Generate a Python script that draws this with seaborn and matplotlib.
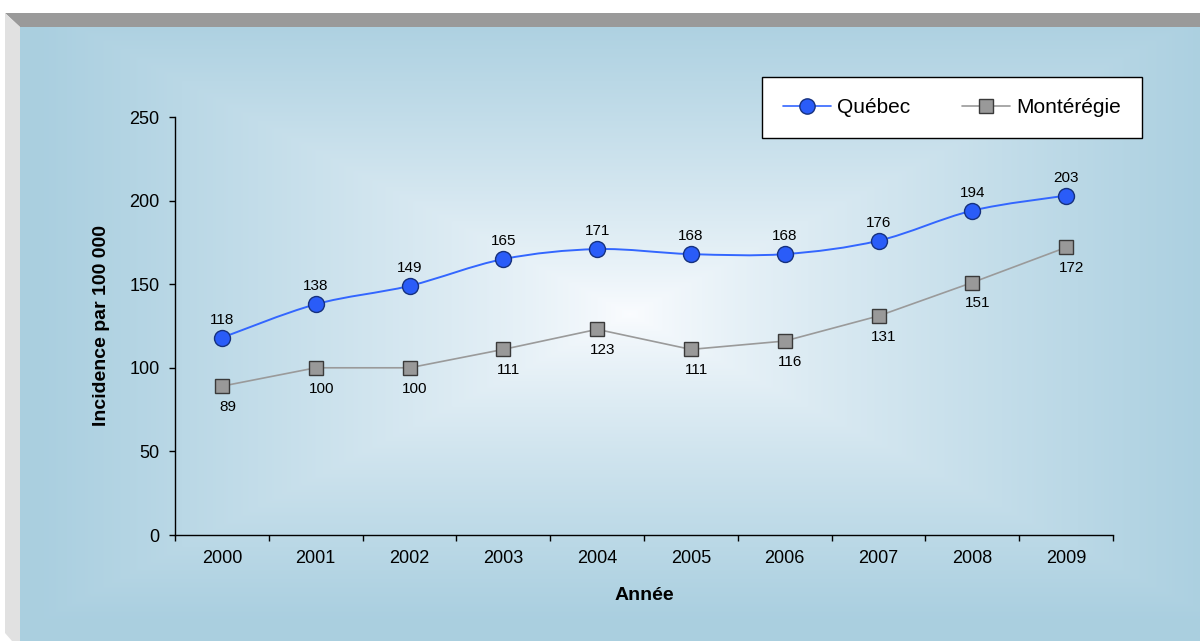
import numpy as np
import pandas as pd
import matplotlib
matplotlib.use("Agg")
import matplotlib.pyplot as plt
from matplotlib.path import Path
from matplotlib.patches import PathPatch, Polygon
from matplotlib.lines import Line2D
import seaborn as sns

# ---- data -------------------------------------------------------------
years = ["2000", "2001", "2002", "2003", "2004",
         "2005", "2006", "2007", "2008", "2009"]
quebec = [118, 138, 149, 165, 171, 168, 168, 176, 194, 203]
monteregie = [89, 100, 100, 111, 123, 111, 116, 131, 151, 172]
y_ticks = [0, 50, 100, 150, 200, 250]
series_names = ["Québec", "Montérégie"]
x_title = "Année"
y_title = "Incidence par 100 000"

# ---- style ------------------------------------------------------------
sns.set_theme(style="white")
plt.rcParams["font.family"] = ["Liberation Sans", "DejaVu Sans"]
plt.rcParams.update({"text.color": "black", "axes.labelcolor": "black",
                     "xtick.color": "black", "ytick.color": "black"})

Q_LINE, Q_FACE, Q_EDGE = "#3366ff", "#2a5cf8", "#16317e"
M_LINE, M_FACE, M_EDGE = "#9a9a9a", "#999999", "#3a3a3a"
BG_EDGE = np.array([0.667, 0.812, 0.878])

W, H = 1200, 641
fig = plt.figure(figsize=(W / 100, H / 100), dpi=100, facecolor="white")

# ---- chart-area background: bevelled frame + centre gradient ------------
bg = fig.add_axes([0, 0, 1, 1])
bg.set_xlim(0, W)
bg.set_ylim(H, 0)
bg.axis("off")

x0, x1, y0, y1 = 20, W, 27, H
gx = np.linspace(x0, x1, 600)
gy = np.linspace(y0, y1, 320)
GX, GY = np.meshgrid(gx, gy)
cx, cy = (x0 + x1) / 2 + 20, (y0 + y1) / 2 - 20
t = np.maximum(np.abs(GX - cx) / ((x1 - x0) / 2), np.abs(GY - cy) / ((y1 - y0) / 2))
t = np.clip(t, 0, 1) ** 0.8
img = (1 - t)[..., None] * np.array([0.985, 0.99, 1.0]) + t[..., None] * BG_EDGE
bg.imshow(img, extent=(x0, x1, y1, y0), aspect="auto", interpolation="bilinear", zorder=0)

bg.add_patch(Polygon([(5, 13), (W, 13), (W, 27), (20, 27)], closed=True,
                     facecolor="#9a9a9a", edgecolor="none", zorder=1))
bg.add_patch(Polygon([(5, 13), (20, 27), (20, H), (12, H), (5, 633)], closed=True,
                     facecolor="#e1e1e1", edgecolor="none", zorder=1))

# ---- plot axes ---------------------------------------------------------
ax = fig.add_axes([175 / W, (H - 535) / H, (1113 - 175) / W, (535 - 117) / H])
ax.patch.set_alpha(0)

pos = np.arange(len(years))
df = pd.DataFrame({"pos": np.tile(pos, 2),
                   "value": quebec + monteregie,
                   "series": np.repeat(series_names, len(years))})
dq = df[df["series"] == series_names[0]]
dm = df[df["series"] == series_names[1]]


def smooth_path(x, y, k=1 / 6):
    pts = np.column_stack([x, y]).astype(float)
    n = len(pts)
    verts, codes = [pts[0]], [Path.MOVETO]
    for i in range(n - 1):
        p0 = pts[i - 1] if i > 0 else pts[i]
        p1, p2 = pts[i], pts[i + 1]
        p3 = pts[i + 2] if i + 2 < n else pts[i + 1]
        verts += [p1 + (p2 - p0) * k, p2 - (p3 - p1) * k, p2]
        codes += [Path.CURVE4] * 3
    return Path(verts, codes)


# Montérégie: straight segments with square markers
sns.lineplot(data=dm, x="pos", y="value", ax=ax, color=M_LINE, lw=1.2,
             marker="s", markersize=9.5, markerfacecolor=M_FACE,
             markeredgecolor=M_EDGE, markeredgewidth=1.0, zorder=3)

# Québec: smoothed line with round markers
ax.add_patch(PathPatch(smooth_path(dq["pos"], dq["value"]), facecolor="none",
                       edgecolor=Q_LINE, lw=1.4, zorder=3))
sns.scatterplot(data=dq, x="pos", y="value", ax=ax, s=11.5 ** 2, marker="o",
                color=Q_FACE, edgecolor=Q_EDGE, linewidth=1.0, zorder=4)

for xv, v in zip(pos, quebec):
    ax.annotate(str(v), (xv, v), xytext=(0, 13), textcoords="offset points",
                ha="center", va="center", fontsize=11, color="black")
for xv, v in zip(pos, monteregie):
    ax.annotate(str(v), (xv, v), xytext=(4, -15), textcoords="offset points",
                ha="center", va="center", fontsize=11, color="black")

# axes, ticks
ax.set_xlim(-0.5, len(years) - 0.5)
ax.set_ylim(0, 250)
ax.set_yticks(y_ticks)
ax.set_xticks(pos)
ax.set_xticklabels(years)
ax.set_xticks(np.arange(-0.5, len(years)), minor=True)
ax.tick_params(axis="x", which="major", length=0, pad=11, labelsize=13,
               labelcolor="black")
ax.tick_params(axis="x", which="minor", length=4, width=1, direction="out",
               color="black", bottom=True)
ax.tick_params(axis="y", which="major", length=4, width=1, direction="out",
               pad=7, labelsize=13, color="black", labelcolor="black", left=True)
for side in ("top", "right"):
    ax.spines[side].set_visible(False)
for side in ("left", "bottom"):
    ax.spines[side].set_color("black")
    ax.spines[side].set_linewidth(1.0)

ax.set_xlabel(x_title, fontsize=14, fontweight="bold", labelpad=14, color="black")
ax.set_ylabel(y_title, fontsize=14, fontweight="bold", labelpad=14, color="black")

# legend
handles = [
    Line2D([], [], color=Q_LINE, lw=1.2, marker="o", markersize=11,
           markerfacecolor=Q_FACE, markeredgecolor=Q_EDGE),
    Line2D([], [], color=M_LINE, lw=1.2, marker="s", markersize=9.5,
           markerfacecolor=M_FACE, markeredgecolor=M_EDGE),
]
leg = fig.legend(handles, series_names, loc="upper right",
                 bbox_to_anchor=(1142 / W, 1 - 77 / H), ncol=2, fontsize=15,
                 frameon=True, fancybox=False, framealpha=1, edgecolor="black",
                 facecolor="white", borderpad=1.0, handlelength=2.3,
                 handletextpad=0.3, columnspacing=2.5, borderaxespad=0)
leg.get_frame().set_linewidth(1.0)

fig.savefig("out.png", dpi=100, facecolor="white")
